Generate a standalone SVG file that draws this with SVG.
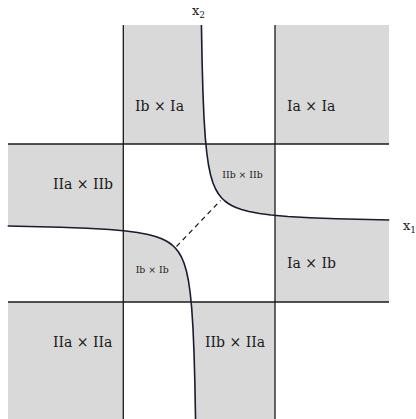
<svg xmlns="http://www.w3.org/2000/svg" width="416" height="419" viewBox="0 0 416 419">
<style>
.cell{fill:#d9d9d9;stroke:none}
.grid{stroke:#1a1a1a;stroke-width:1.3;fill:none}
.curve{stroke:#1a1a30;stroke-width:1.6;fill:none;stroke-linejoin:round}
.dash{stroke:#1a1a1a;stroke-width:1.2;stroke-dasharray:5 4;fill:none}
.lbl{font-family:"DejaVu Serif","Liberation Serif",serif;font-size:14px;fill:#1a1a1a}
.sm{font-size:9.3px}
.ax{font-family:"DejaVu Serif","Liberation Serif",serif;font-size:13px;fill:#1a1a1a}
</style>
<defs>
<clipPath id="midClip">
<path d="M201.43 0 L201.43 25 L202.13 63 L202.96 93 L204.02 118 L205.32 138 L206.79 153 L208.5 165 L210.58 175 L213 183 L215.56 189 L218.5 194 L221.7 198 L224.86 201 L228.24 203.5 L231.64 205.5 L235.92 207.5 L241.46 209.5 L248.93 211.5 L259.55 213.5 L271 215 L287.73 216.5 L310.04 217.8 L336.6 218.8 L389.3 219.96 L420 219.96 L420 425 L195.57 425 L195.57 421 L194.87 383 L194.04 353 L192.98 328 L191.68 308 L190.21 293 L188.5 281 L186.42 271 L184 263 L181.44 257 L178.5 252 L175.3 248 L172.14 245 L168.76 242.5 L165.36 240.5 L161.08 238.5 L155.54 236.5 L148.07 234.5 L137.45 232.5 L126 231 L109.27 229.5 L86.96 228.2 L60.4 227.2 L7.7 226.04 L0 226.04 L0 0 Z"/>
</clipPath>
<clipPath id="abClip">
<path d="M201.43 0 L201.43 25 L202.13 63 L202.96 93 L204.02 118 L205.32 138 L206.79 153 L208.5 165 L210.58 175 L213 183 L215.56 189 L218.5 194 L221.7 198 L224.86 201 L228.24 203.5 L231.64 205.5 L235.92 207.5 L241.46 209.5 L248.93 211.5 L259.55 213.5 L271 215 L287.73 216.5 L310.04 217.8 L336.6 218.8 L389.3 219.96 L420 219.96 L420 0 Z"/>
<path d="M195.57 425 L195.57 421 L194.87 383 L194.04 353 L192.98 328 L191.68 308 L190.21 293 L188.5 281 L186.42 271 L184 263 L181.44 257 L178.5 252 L175.3 248 L172.14 245 L168.76 242.5 L165.36 240.5 L161.08 238.5 L155.54 236.5 L148.07 234.5 L137.45 232.5 L126 231 L109.27 229.5 L86.96 228.2 L60.4 227.2 L7.7 226.04 L0 226.04 L0 425 Z"/>
</clipPath>
</defs>
<g id="shading">
<g clip-path="url(#midClip)">
<rect class="cell" x="123" y="25" width="152" height="119"/>
<rect class="cell" x="8" y="144" width="115" height="158"/>
<rect class="cell" x="275" y="144" width="114" height="158"/>
<rect class="cell" x="123" y="302" width="152" height="117"/>
</g>
<g clip-path="url(#abClip)">
<rect class="cell" x="8" y="25" width="115" height="119"/>
<rect class="cell" x="275" y="25" width="114" height="119"/>
<rect class="cell" x="123" y="144" width="152" height="158"/>
<rect class="cell" x="8" y="302" width="115" height="117"/>
<rect class="cell" x="275" y="302" width="114" height="117"/>
</g>
</g>
<g id="grid">
<line class="grid" x1="123.3" y1="25" x2="123.3" y2="419"/>
<line class="grid" x1="275" y1="25" x2="275" y2="419"/>
<line class="grid" x1="8" y1="144" x2="389" y2="144"/>
<line class="grid" x1="8" y1="302" x2="389" y2="302"/>
</g>
<g id="curves">
<path class="curve" d="M201.43 25 L202.13 63 L202.96 93 L204.02 118 L205.32 138 L206.79 153 L208.5 165 L210.58 175 L213 183 L215.56 189 L218.5 194 L221.7 198 L224.86 201 L228.24 203.5 L231.64 205.5 L235.92 207.5 L241.46 209.5 L248.93 211.5 L259.55 213.5 L271 215 L287.73 216.5 L310.04 217.8 L336.6 218.8 L389.3 219.96"/>
<path class="curve" d="M195.57 421 L194.87 383 L194.04 353 L192.98 328 L191.68 308 L190.21 293 L188.5 281 L186.42 271 L184 263 L181.44 257 L178.5 252 L175.3 248 L172.14 245 L168.76 242.5 L165.36 240.5 L161.08 238.5 L155.54 236.5 L148.07 234.5 L137.45 232.5 L126 231 L109.27 229.5 L86.96 228.2 L60.4 227.2 L7.7 226.04"/>
<line class="dash" x1="176.5" y1="246.5" x2="220.5" y2="200.5"/>
</g>
<g id="labels">
<text class="lbl" x="135" y="111">Ib × Ia</text>
<text class="lbl" x="287" y="111">Ia × Ia</text>
<text class="lbl" x="53" y="189">IIa × IIb</text>
<text class="lbl sm" x="222.3" y="178.3">IIb × IIb</text>
<text class="lbl sm" x="135.7" y="273.3">Ib × Ib</text>
<text class="lbl" x="287" y="267.7">Ia × Ib</text>
<text class="lbl" x="53" y="346.7">IIa × IIa</text>
<text class="lbl" x="205" y="346.7">IIb × IIa</text>
<text class="ax" x="192" y="15">x<tspan font-size="9" dy="3">2</tspan></text>
<text class="ax" x="403" y="229.5">x<tspan font-size="9" dy="3">1</tspan></text>
</g>
</svg>
